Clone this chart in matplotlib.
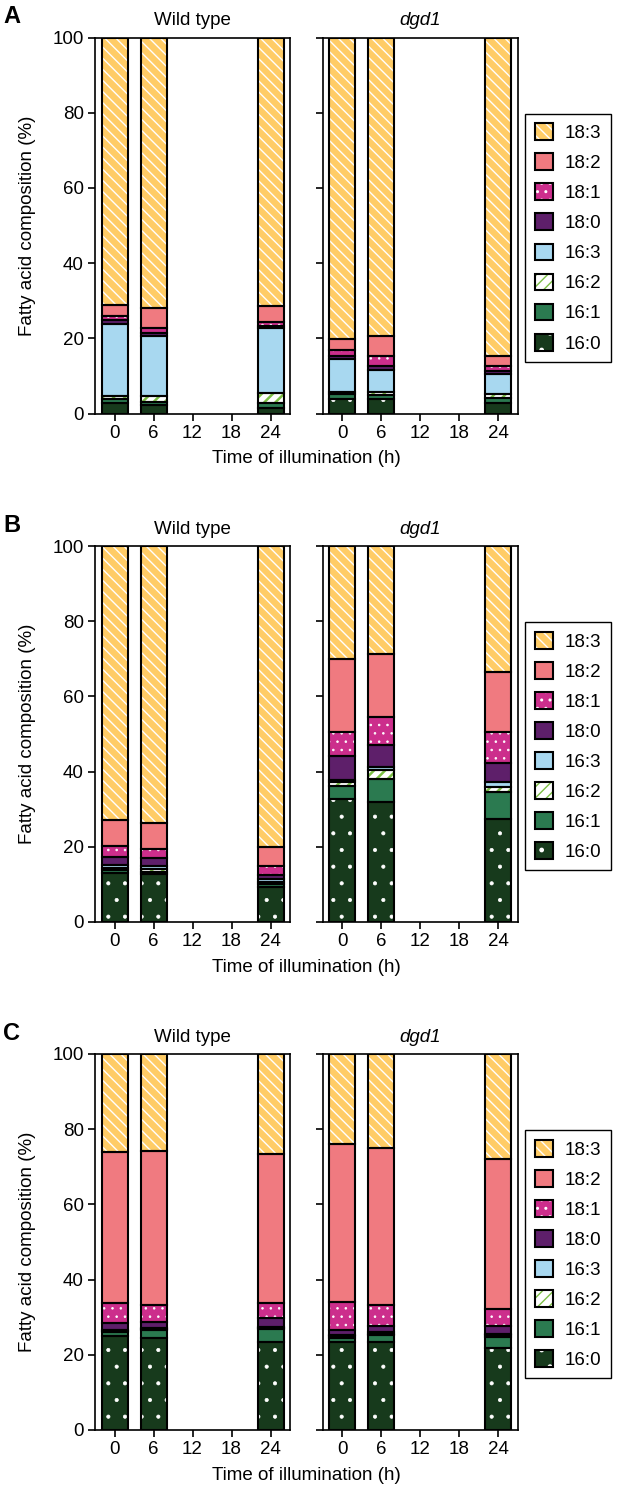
import matplotlib
matplotlib.use("Agg")
import matplotlib.pyplot as plt
from matplotlib.patches import Patch

plt.rcParams['font.family'] = ['Liberation Sans', 'DejaVu Sans']

# time points (h) and fatty acid species, bottom -> top of the stack
times = [0, 6, 24]
species = ['16:0', '16:1', '16:2', '16:3', '18:0', '18:1', '18:2', '18:3']

# rows = time point, columns = species (%)
a_wt = [[2.9, 0.9, 0.8, 19.2, 1.2, 0.9, 3.0, 71.1],
        [2.2, 0.9, 1.5, 16.0, 0.8, 1.4, 5.3, 71.9],
        [1.5, 1.2, 2.8, 17.3, 0.6, 1.0, 4.2, 71.4]]
a_dgd1 = [[3.8, 1.3, 0.7, 8.6, 1.0, 1.6, 2.7, 80.3],
          [3.8, 1.0, 0.9, 5.9, 1.0, 2.6, 5.5, 79.3],
          [2.7, 1.3, 1.2, 5.3, 0.8, 1.4, 2.5, 84.8]]
b_wt = [[12.9, 0.8, 0.6, 0.9, 2.2, 2.8, 6.8, 73.0],
        [12.8, 0.6, 0.6, 0.9, 2.0, 2.4, 7.0, 73.7],
        [9.4, 0.6, 0.6, 0.8, 1.2, 2.3, 5.0, 80.1]]
b_dgd1 = [[32.7, 3.5, 1.0, 0.6, 6.3, 6.3, 19.6, 30.0],
          [32.0, 6.0, 2.3, 0.8, 6.0, 7.3, 17.0, 28.6],
          [27.4, 7.2, 1.4, 1.2, 5.2, 8.0, 16.2, 33.4]]
c_wt = [[25.0, 1.0, 0.3, 0.4, 1.8, 5.4, 40.0, 26.1],
        [24.4, 2.2, 0.3, 0.3, 1.6, 4.5, 41.0, 25.7],
        [23.3, 3.6, 0.3, 0.3, 2.2, 4.0, 39.8, 26.5]]
c_dgd1 = [[23.3, 1.2, 0.4, 0.4, 1.2, 7.5, 42.0, 24.0],
          [23.3, 1.9, 0.4, 0.4, 1.7, 5.6, 41.6, 25.1],
          [21.8, 3.0, 0.4, 0.4, 2.0, 4.5, 40.0, 27.9]]

# style per species: fill, hatch, hatch colour, hatch line width
fills = ['#173a1c', '#2b7a50', '#ffffff', '#a8d8f0', '#5e1f6a', '#cc2e8c', '#f07a80', '#ffcc66']
hatches = ['.', None, '///', None, None, '..', None, '\\\\\\']
hatch_cols = ['white', None, '#7cbf45', None, None, 'white', None, 'white']
hatch_lw = [0.5, 1, 1.8, 1, 1, 0.6, 1, 1.0]

W, H = 620, 1500
fig = plt.figure(figsize=(W / 100, H / 100), dpi=100)


def px_axes(x0, y0, x1, y1):
    return fig.add_axes([x0 / W, 1 - y1 / H, (x1 - x0) / W, (y1 - y0) / H])


def hatch_patch(j, **kw):
    with plt.rc_context({'hatch.linewidth': hatch_lw[j]}):
        return Patch(facecolor='none', edgecolor=hatch_cols[j], hatch=hatches[j], linewidth=0, **kw)


def stacked(ax, data):
    bottom = [0.0] * len(times)
    for j, sp in enumerate(species):
        vals = [row[j] for row in data]
        ax.bar(times, vals, width=4.0, bottom=bottom, color=fills[j], linewidth=0, zorder=2)
        if hatches[j]:
            with plt.rc_context({'hatch.linewidth': hatch_lw[j]}):
                ax.bar(times, vals, width=4.0, bottom=bottom, color='none', edgecolor=hatch_cols[j],
                       hatch=hatches[j], linewidth=0, zorder=3)
        ax.bar(times, vals, width=4.0, bottom=bottom, color='none', edgecolor='black',
               linewidth=1.5, zorder=4)
        bottom = [b + v for b, v in zip(bottom, vals)]


def style(ax, show_labels):
    ax.set_xlim(-3, 27)
    ax.set_ylim(0, 100)
    ax.set_xticks([0, 6, 12, 18, 24])
    ax.set_yticks([0, 20, 40, 60, 80, 100])
    ax.tick_params(direction='out', length=5, width=1.2, labelsize=13.5, pad=3)
    if not show_labels:
        ax.set_yticklabels([])
    for s in ax.spines.values():
        s.set_linewidth(1.2)


panels = [('A', a_wt, a_dgd1, 37.5), ('B', b_wt, b_dgd1, 546), ('C', c_wt, c_dgd1, 1054)]
for letter, wt, dgd, top in panels:
    bot = top + 376
    ax1 = px_axes(95, top, 290, bot)
    ax2 = px_axes(322.5, top, 517.5, bot)
    stacked(ax1, wt)
    stacked(ax2, dgd)
    style(ax1, True)
    style(ax2, False)
    ax1.set_title('Wild type', fontsize=13.5, pad=9)
    ax2.set_title('dgd1', fontsize=13.5, style='italic', pad=9)
    fig.text(3 / W, 1 - (top - 21) / H, letter, fontsize=17, fontweight='bold', va='center', ha='left')
    fig.text(28 / W, 1 - (top + bot) / 2 / H, 'Fatty acid composition (%)', rotation=90,
             fontsize=13.5, va='center', ha='center')
    fig.text(306 / W, 1 - (bot + 45) / H, 'Time of illumination (h)', fontsize=13.5,
             va='center', ha='center')

    handles = []
    for j in range(len(species) - 1, -1, -1):
        parts = [Patch(facecolor=fills[j], linewidth=0)]
        if hatches[j]:
            parts.append(hatch_patch(j))
        parts.append(Patch(facecolor='none', edgecolor='black', linewidth=1.5))
        handles.append(tuple(parts))
    leg = ax2.legend(handles, species[::-1], loc='center left', bbox_to_anchor=(1.04, 0.467),
                     borderaxespad=0, fontsize=13.5, handlelength=1.0, handleheight=1.0,
                     labelspacing=0.6, handletextpad=0.6, borderpad=0.5, fancybox=False,
                     edgecolor='black', framealpha=1)
    leg.get_frame().set_linewidth(1.0)

fig.savefig('out.png', dpi=100)
